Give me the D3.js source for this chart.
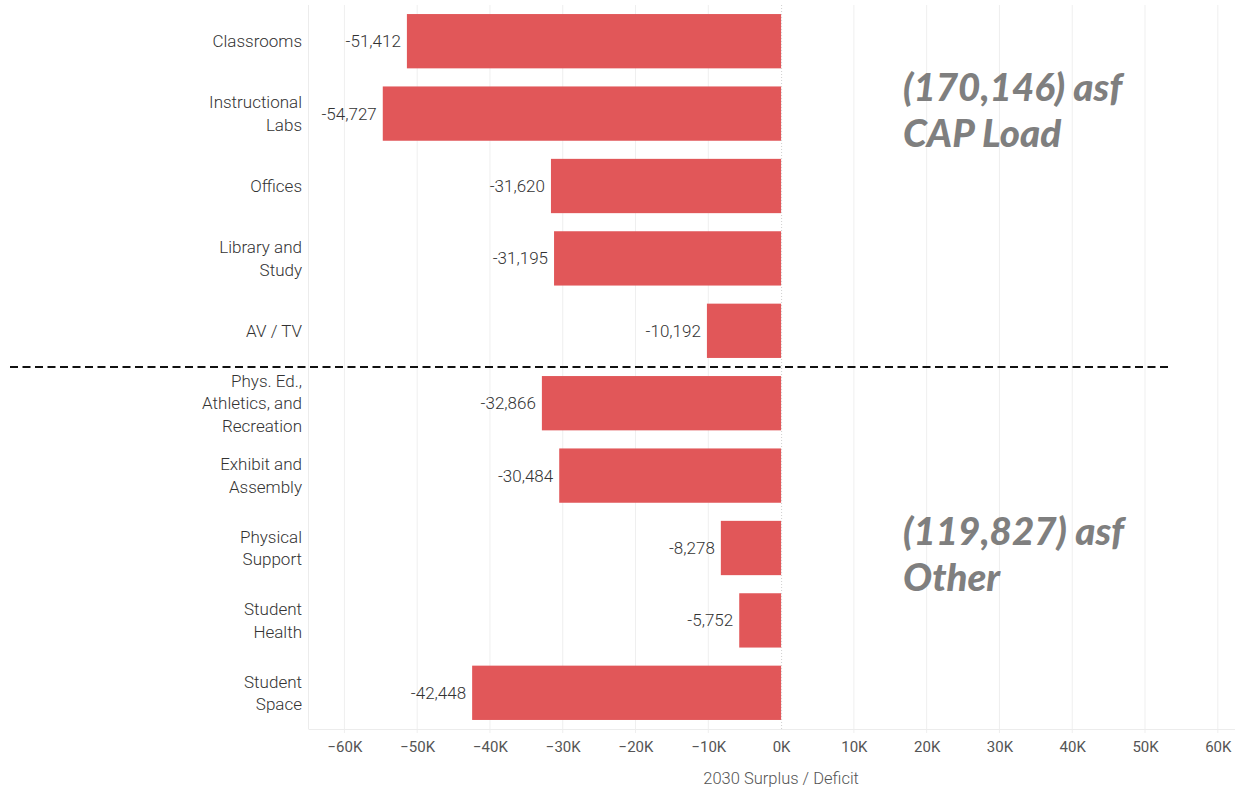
<!DOCTYPE html>
<html>
<head>
<meta charset="utf-8">
<script src="https://cdn.jsdelivr.net/npm/d3@7"></script>
<style>
  body { margin: 0; background: #fff; }
  svg text { font-family: Roboto, "Open Sans", sans-serif; }
</style>
</head>
<body>
<svg id="svg"></svg>
<script>
  // data
  const categories = [
    ["Classrooms"],
    ["Instructional", "Labs"],
    ["Offices"],
    ["Library and", "Study"],
    ["AV / TV"],
    ["Phys. Ed.,", "Athletics, and", "Recreation"],
    ["Exhibit and", "Assembly"],
    ["Physical", "Support"],
    ["Student", "Health"],
    ["Student", "Space"]
  ];
  const values = [-51412, -54727, -31620, -31195, -10192, -32866, -30484, -8278, -5752, -42448];
  const tickValues = [-60000, -50000, -40000, -30000, -20000, -10000, 0, 10000, 20000, 30000, 40000, 50000, 60000];
  const groupNotes = [
    { lines: ["(170,146) asf", "CAP Load"] },
    { lines: ["(119,827) asf", "Other"] }
  ];

  const W = 1235, H = 791;
  const marginLeft = 308;
  const marginTop = 5;
  const plotRight = 1236;
  const plotBottom = 729;

  const svg = d3.select("#svg")
      .attr("width", W)
      .attr("height", H);

  const xScale = d3.scaleLinear()
      .domain([-65000, 62500])
      .range([marginLeft, plotRight]);

  const yScale = d3.scaleBand()
      .domain(d3.range(values.length))
      .range([marginTop, plotBottom])
      .paddingInner(0.25)
      .paddingOuter(0.125);

  // gridlines
  svg.append("g")
    .selectAll("line")
    .data(tickValues)
    .enter().append("line")
      .attr("x1", d => xScale(d))
      .attr("x2", d => xScale(d))
      .attr("y1", marginTop)
      .attr("y2", plotBottom + 4)
      .attr("stroke", "#efefef")
      .attr("stroke-width", 1)
      .style("display", d => d === 0 ? "none" : null);

  // left border of plot
  svg.append("line")
      .attr("x1", marginLeft + 0.5).attr("x2", marginLeft + 0.5)
      .attr("y1", marginTop).attr("y2", plotBottom)
      .attr("stroke", "#ececec");

  // x axis
  const xAxis = svg.append("g")
      .attr("transform", `translate(0, ${plotBottom})`)
      .call(d3.axisBottom(xScale)
        .tickValues(tickValues)
        .tickSize(0)
        .tickPadding(12)
        .tickFormat(d => d3.format("d")(d / 1000) + "K"));
  xAxis.select(".domain").attr("stroke", "#ececec");
  xAxis.selectAll("text")
      .attr("fill", "#555")
      .style("font-size", "15px");

  svg.append("text")
      .attr("x", xScale(0))
      .attr("y", 784)
      .attr("text-anchor", "middle")
      .attr("fill", "#555")
      .style("font-size", "16.5px")
      .style("font-weight", 300)
      .text("2030 Surplus / Deficit");

  // bars
  svg.append("g")
    .selectAll("rect")
    .data(values)
    .enter().append("rect")
      .attr("x", d => xScale(Math.min(0, d)))
      .attr("y", (d, i) => yScale(i))
      .attr("width", d => Math.abs(xScale(d) - xScale(0)))
      .attr("height", yScale.bandwidth())
      .attr("fill", "#e15759");

  // zero line
  svg.append("line")
      .attr("x1", xScale(0) + 0.5).attr("x2", xScale(0) + 0.5)
      .attr("y1", marginTop).attr("y2", plotBottom)
      .attr("stroke", "#cfcfcf")
      .attr("stroke-dasharray", "1,2");

  // value labels
  svg.append("g")
    .selectAll("text")
    .data(values)
    .enter().append("text")
      .attr("x", d => xScale(d) - 6)
      .attr("y", (d, i) => yScale(i) + yScale.bandwidth() / 2)
      .attr("dy", "0.35em")
      .attr("text-anchor", "end")
      .attr("fill", "#333")
      .style("font-size", "17px")
      .style("font-weight", 300)
      .text(d => d3.format(",")(d).replace("−", "-"));

  // category labels
  const lineH = 22.5;
  const cat = svg.append("g")
    .selectAll("text")
    .data(categories)
    .enter().append("text")
      .attr("text-anchor", "end")
      .attr("fill", "#333")
      .style("font-size", "17px")
      .style("font-weight", 300)
      .attr("y", (d, i) => yScale(i) + yScale.bandwidth() / 2 - (d.length - 1) * lineH / 2);
  cat.selectAll("tspan")
    .data(d => d)
    .enter().append("tspan")
      .attr("x", 302)
      .attr("dy", (d, j) => j === 0 ? "0.35em" : lineH)
      .text(d => d);

  // divider between groups
  const divY = yScale(5) - yScale.step() * yScale.paddingInner() / 2;
  svg.append("line")
      .attr("x1", 10).attr("x2", 1172)
      .attr("y1", divY).attr("y2", divY)
      .attr("stroke", "#111")
      .attr("stroke-width", 2)
      .attr("stroke-dasharray", "8,4.5");

  // group annotations
  const noteY = [101, 545];
  groupNotes.forEach((g, k) => {
    const t = svg.append("text")
        .attr("x", 903)
        .attr("y", noteY[k])
        .attr("fill", "#7f7f7f")
        .style("font-family", "Lato, 'DejaVu Sans', sans-serif")
        .style("font-weight", 900)
        .style("font-style", "italic")
        .style("font-size", "38.5px");
    t.selectAll("tspan")
      .data(g.lines)
      .enter().append("tspan")
        .attr("x", 903)
        .attr("dy", (d, j) => j === 0 ? 0 : 46)
        .text(d => d);
  });
</script>
</body>
</html>
